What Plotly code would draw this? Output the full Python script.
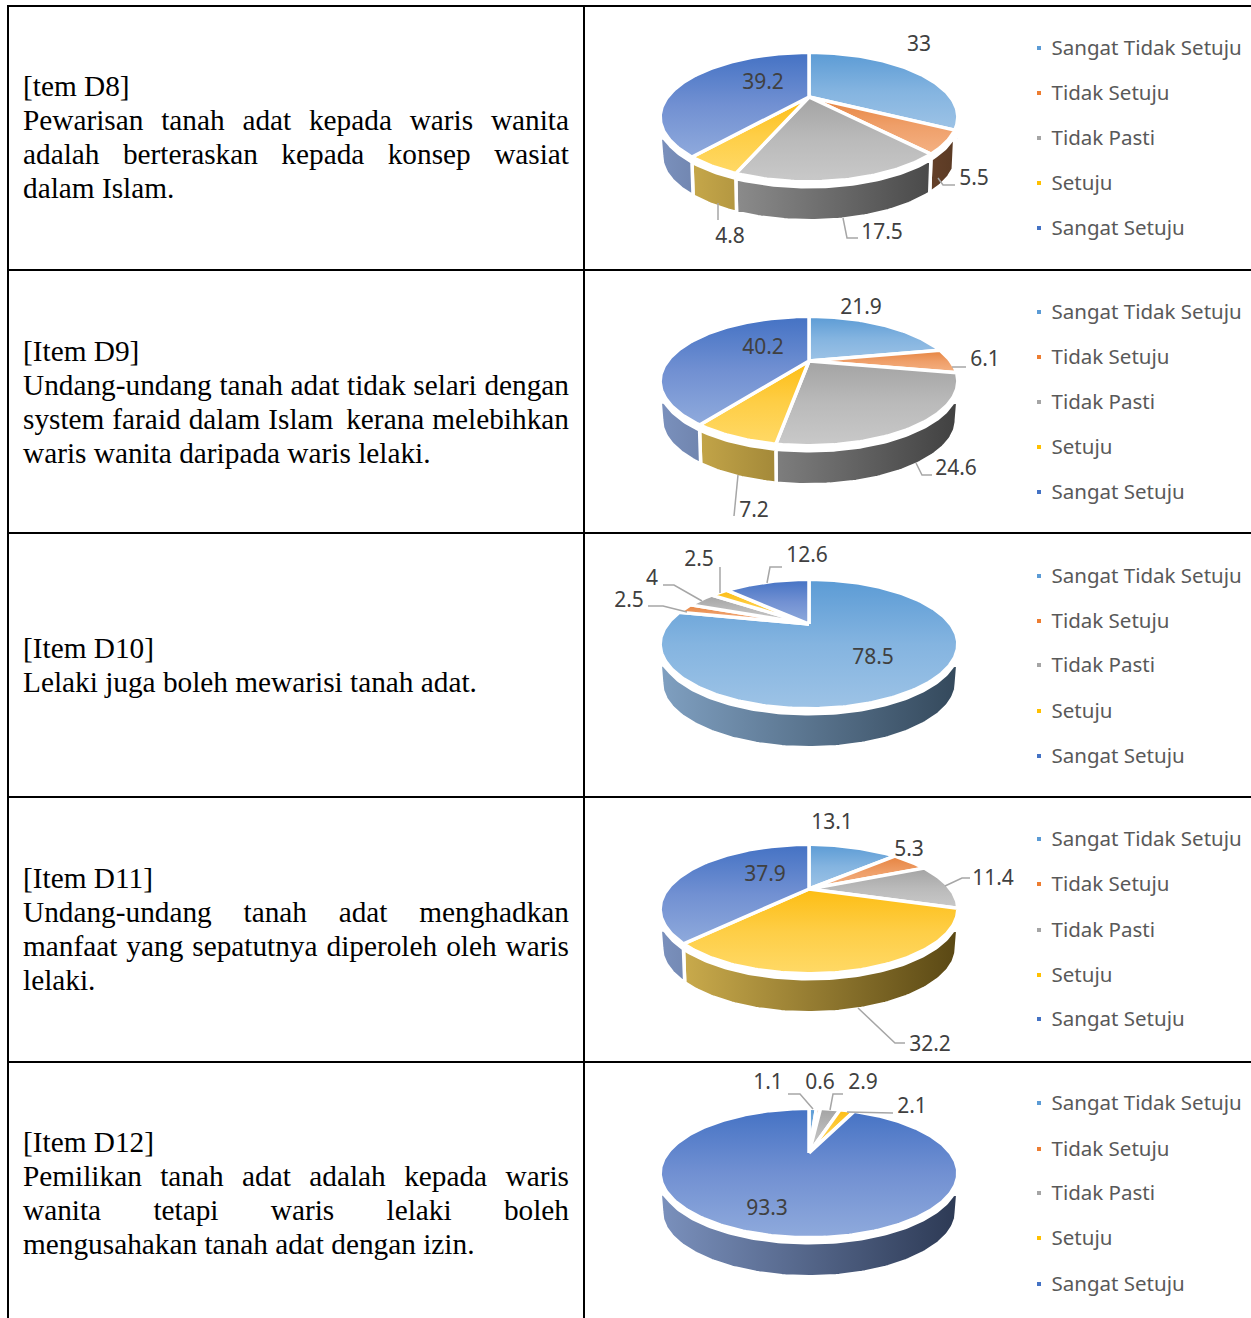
import math
import plotly.graph_objects as go

# ---------- data ----------
categories = ["Sangat Tidak Setuju", "Tidak Setuju", "Tidak Pasti", "Setuju", "Sangat Setuju"]
d8 = [33, 5.5, 17.5, 4.8, 39.2]
d9 = [21.9, 6.1, 24.6, 7.2, 40.2]
d10 = [78.5, 2.5, 4, 2.5, 12.6]
d11 = [13.1, 5.3, 11.4, 32.2, 37.9]
d12 = [1.1, 0.6, 2.9, 2.1, 93.3]
series = [d8, d9, d10, d11, d12]

# text of the left-hand column: (text, justified?)
rows_text = [
    [("[tem D8]", False), ("Pewarisan tanah adat kepada waris wanita", True),
     ("adalah berteraskan kepada konsep wasiat", True), ("dalam Islam.", False)],
    [("[Item D9]", False), ("Undang-undang tanah adat tidak selari dengan", True),
     ("system faraid dalam Islam kerana melebihkan", True), ("waris wanita daripada waris lelaki.", False)],
    [("[Item D10]", False), ("Lelaki juga boleh mewarisi tanah adat.", False)],
    [("[Item D11]", False), ("Undang-undang tanah adat menghadkan", True),
     ("manfaat yang sepatutnya diperoleh oleh waris", True), ("lelaki.", False)],
    [("[Item D12]", False), ("Pemilikan tanah adat adalah kepada waris", True),
     ("wanita tetapi waris lelaki boleh", True), ("mengusahakan tanah adat dengan izin.", False)],
]

# ---------- layout constants (page pixels) ----------
text_first_y = [89, 354, 651, 881, 1145]
line_h = 34
pie_top = [54, 318, 581, 846, 1110]
legend_y = [
    [50, 95, 140, 185, 230],
    [314, 359, 404, 449, 494],
    [578, 623, 667, 713, 758],
    [841, 886, 932, 977, 1021],
    [1105, 1151, 1195, 1240, 1286],
]
label_pos = [
    [(919, 46), (974, 180), (882, 234), (730, 238), (763, 84)],
    [(861, 309), (985, 361), (956, 470), (754, 512), (763, 349)],
    [(873, 659), (629, 602), (652, 580), (699, 561), (807, 557)],
    [(832, 824), (909, 851), (993, 880), (930, 1046), (765, 876)],
    [(768, 1084), (820, 1084), (863, 1084), (912, 1108), (767, 1210)],
]
leaders = [
    [[(938, 178), (943, 185), (955, 185)], [(843, 218), (847, 238), (858, 238)], [(718, 203), (718, 220)]],
    [[(952, 367), (966, 367)], [(916, 463), (922, 475), (932, 475)], [(738, 475), (734, 516)]],
    [[(648, 606), (663, 606), (687, 612)], [(663, 585), (674, 585), (702, 601)], [(720, 567), (720, 593)],
     [(782, 567), (770, 567), (767, 583)]],
    [[(945, 886), (962, 878), (970, 878)], [(858, 1008), (895, 1043), (905, 1043)]],
    [[(788, 1094), (800, 1094), (813, 1109)], [(843, 1094), (833, 1094), (830, 1110)], [(893, 1113), (847, 1112)]],
]

top_colors = [("#5b9bd5", "#84b4e0", "#9dc3e6"), ("#e6833f", "#ef9f69", "#f4b183"),
              ("#a3a3a3", "#bababa", "#c9c9c9"), ("#fdbd13", "#fece46", "#ffd966"),
              ("#4472c4", "#7190d2", "#8faadc")]
wall_colors = [("#7f9fc0", "#34495c"), ("#d0825a", "#5a3a24"), ("#a4a4a4", "#414141"),
               ("#d2b250", "#5a4814"), ("#7a90bc", "#2d3a55")]
legend_colors = ["#5b9bd5", "#ed7d31", "#a5a5a5", "#ffc000", "#4472c4"]

CX = 809
R, S, K = 141.5, 58.5, 0.31
D0, D1 = 5, 39
SERIF = "Liberation Serif"
SANS = "Noto Sans"

# Times metrics, used only to spread justified words between the margins
W = dict(a=444, b=500, c=444, d=500, e=444, f=333, g=500, h=500, i=278, j=278, k=500, l=278, m=778,
         n=500, o=500, p=500, q=500, r=333, s=389, t=278, u=500, v=500, w=722, x=500, y=500, z=444)
W.update({"-": 333, ".": 250, "P": 556, "U": 722})
FS, TX0, TX1 = 29.3, 23, 569


def tw(s):
    return sum(W.get(c, 500) for c in s) * FS / 1000


def proj(t, apex):
    u, v = math.sin(t), math.cos(t)
    d = 1 + K * v
    return CX + R * u / d, apex - S * v / d


fig = go.Figure()
T_R = math.acos(-K)
T_L = 2 * math.pi - T_R

for i, vals in enumerate(series):
    apex = pie_top[i] + 43
    ecy = pie_top[i] + 63
    total = sum(vals)
    # walls
    a = 0.0
    for j, val in enumerate(vals):
        b = a + val / total * 2 * math.pi
        lo, hi = max(a, T_R), min(b, T_L)
        if hi > lo:
            n = max(3, int((hi - lo) * 60))
            ts = [lo + (hi - lo) * q / n for q in range(n + 1)]
            up, low = [], []
            for t in ts:
                x, y = proj(t, apex)
                up.append((x, max(y + D0, ecy + 21)))
                low.append((CX + (x - CX) * 0.99, y + D1))
            pts = up + low[::-1] + [up[0]]
            fig.add_trace(go.Scatter(
                x=[p[0] for p in pts], y=[p[1] for p in pts], mode="lines", fill="toself",
                line=dict(color="white", width=3.5), hoverinfo="skip", showlegend=False,
                fillgradient=dict(type="horizontal", start=662, stop=956,
                                  colorscale=[[0, wall_colors[j][0]], [1, wall_colors[j][1]]])))
        a = b
    # top surface: each slice carries its own vertical gradient
    a = 0.0
    for j, val in enumerate(vals):
        b = a + val / total * 2 * math.pi
        n = max(3, int((b - a) * 60))
        pts = [proj(a + (b - a) * q / n, apex) for q in range(n + 1)]
        pts = [(CX, apex)] + pts + [(CX, apex)]
        ys_ = [p[1] for p in pts]
        fig.add_trace(go.Scatter(
            x=[p[0] for p in pts], y=ys_, mode="lines", fill="toself",
            line=dict(color="white", width=3.5), hoverinfo="skip", showlegend=False,
            fillgradient=dict(type="vertical", start=min(ys_), stop=max(ys_),
                              colorscale=[[0, top_colors[j][0]], [0.5, top_colors[j][1]], [1, top_colors[j][2]]])))
        a = b
    # leader lines
    for ld in leaders[i]:
        fig.add_trace(go.Scatter(x=[p[0] for p in ld], y=[p[1] for p in ld], mode="lines",
                                 line=dict(color="#a6a6a6", width=1.5), hoverinfo="skip", showlegend=False))
    # value labels
    fig.add_trace(go.Scatter(
        x=[p[0] for p in label_pos[i]], y=[p[1] for p in label_pos[i]], mode="text",
        text=[str(v) for v in vals], textposition="middle center",
        textfont=dict(family=SANS, size=21, color="#404040"), hoverinfo="skip", showlegend=False))
    # legend
    fig.add_trace(go.Scatter(
        x=[1039] * 5, y=[y - 2 for y in legend_y[i]], mode="markers",
        marker=dict(symbol="square", size=4, color=legend_colors, line=dict(width=0)),
        hoverinfo="skip", showlegend=False))
    fig.add_trace(go.Scatter(
        x=[1051.5] * 5, y=legend_y[i], mode="text", text=categories, textposition="middle right",
        textfont=dict(family=SANS, size=20.5, color="#595959"), hoverinfo="skip", showlegend=False))
    # left-hand text
    xs, ys, txt = [], [], []
    for ln, (line, just) in enumerate(rows_text[i]):
        y = text_first_y[i] + ln * line_h
        if just:
            words = line.split(" ")
            gap = (TX1 - TX0 - sum(tw(w) for w in words)) / (len(words) - 1)
            x = TX0
            for w in words:
                xs.append(x); ys.append(y); txt.append(w)
                x += tw(w) + gap
        else:
            xs.append(TX0); ys.append(y); txt.append(line)
    fig.add_trace(go.Scatter(
        x=xs, y=ys, mode="text", text=txt, textposition="middle right",
        textfont=dict(family=SERIF, size=FS, color="black"), hoverinfo="skip", showlegend=False))

# table rules
shapes = []
for y in [6, 270, 533, 797, 1062]:
    shapes.append(dict(type="line", x0=7, x1=1251, y0=y, y1=y, line=dict(color="black", width=2)))
for x in [8, 584]:
    shapes.append(dict(type="line", x0=x, x1=x, y0=5, y1=1318, line=dict(color="black", width=2)))

fig.update_layout(
    width=1251, height=1318, margin=dict(l=0, r=0, t=0, b=0), autosize=False,
    paper_bgcolor="white", plot_bgcolor="white", shapes=shapes, showlegend=False,
    xaxis=dict(range=[0, 1251], visible=False, fixedrange=True),
    yaxis=dict(range=[1318, 0], visible=False, fixedrange=True),
)
fig.write_html("out.html", config={"displayModeBar": False, "responsive": False},
               post_script="document.body.style.margin='0';document.documentElement.style.overflow='hidden';")
